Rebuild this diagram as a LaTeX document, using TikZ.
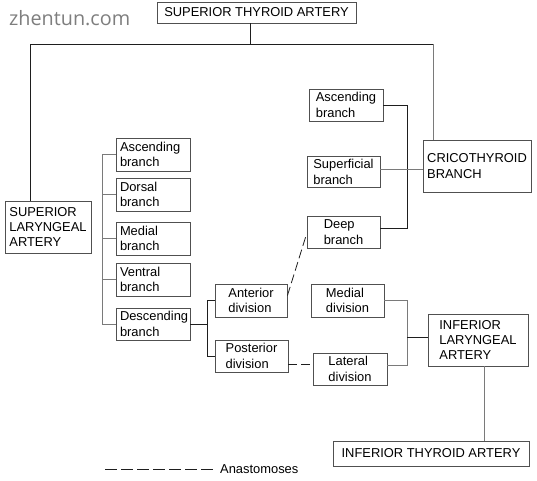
\documentclass[tikz,border=0pt]{standalone}
\usepackage{fontspec}
\setmainfont{Liberation Sans}
\newfontfamily\wmfont{Open Sans}
\definecolor{boxc}{HTML}{505050}
\definecolor{lnk}{HTML}{1E1E1E}
\definecolor{lng}{HTML}{7A7A7A}
\definecolor{wmc}{HTML}{7E7E7E}
\begin{document}
\begin{tikzpicture}[x=1pt,y=-1pt,
  box/.style={draw=boxc, line width=0.9pt, inner sep=0pt, align=left,
    font=\fontsize{12.9}{15.3}\selectfont, text=black},
  lbox/.style={box, text width=66pt, inner xsep=4pt, minimum width=74pt, minimum height=33pt},
  dk/.style={draw=lnk, line width=0.9pt},
  gr/.style={draw=lng, line width=0.9pt},
  anast/.style={draw=lnk, line width=0.8pt, dash pattern=on 9pt off 4pt}]
\useasboundingbox (0,0) rectangle (537,480);
\node[font=\wmfont\fontsize{19.8}{21}\selectfont, text=wmc, anchor=west, inner sep=0pt] (wm) at (9,18) {zhentun.com};

\node[box, minimum width=199pt, minimum height=21pt] (sta) at (256.5,12.5) {SUPERIOR THYROID ARTERY};
\node[box, minimum width=86pt, minimum height=52pt] (sla) at (48,227) {SUPERIOR\\LARYNGEAL\\ARTERY};
\node[lbox] (asc1) at (153,154.5) {Ascending\\branch};
\node[lbox] (dor) at (153,194.5) {Dorsal\\branch};
\node[lbox] (med) at (153,238.5) {Medial\\branch};
\node[lbox] (ven) at (153,279.5) {Ventral\\branch};
\node[lbox, minimum height=32pt] (desc) at (153,324) {Descending\\branch};
\node[box, minimum width=72pt, minimum height=33pt] (ant) at (251,300.5) {Anterior\\division};
\node[box, minimum width=73pt, minimum height=32pt] (post) at (251.5,356) {Posterior\\division};
\node[box, minimum width=74pt, minimum height=32pt] (asc2) at (346,105) {Ascending\\branch};
\node[box, minimum width=73pt, minimum height=31pt] (sup) at (343.5,172) {Superficial\\branch};
\node[box, minimum width=73pt, minimum height=32pt] (deep) at (343.5,232) {Deep\\branch};
\node[box, minimum width=108pt, minimum height=52pt] (cri) at (477,166) {CRICOTHYROID\\BRANCH};
\node[box, minimum width=73pt, minimum height=33pt] (mdiv) at (347.5,300.5) {Medial\\division};
\node[box, minimum width=74pt, minimum height=32pt] (lat) at (350,369) {Lateral\\division};
\node[box, minimum width=100pt, minimum height=52pt] (ila) at (478,340) {INFERIOR\\LARYNGEAL\\ARTERY};
\node[box, minimum width=196pt, minimum height=25pt] (ita) at (431,453.5) {INFERIOR THYROID ARTERY};

% top tree
\coordinate (j1) at (250,44);
\coordinate (jl) at (30,44);
\coordinate (jr) at (433,44);
\draw[dk] (sta.south -| j1) -- (j1);
\draw[dk] (sla.north -| jl) -- (jl) -- (jr);
\draw[gr] (jr) -- (jr |- cri.north);

% left spine
\coordinate (sp) at (102,0);
\draw[gr] (asc1.west -| sp) -- (desc.west -| sp);
\foreach \n in {asc1,dor,med,ven,desc} \draw[gr] (\n.west -| sp) -- (\n.west);

% descending to divisions
\coordinate (dv) at (207,0);
\draw[dk] (desc.east) -- (desc.east -| dv);
\draw[dk] (ant.west -| dv) -- (post.west -| dv);
\draw[dk] (ant.west -| dv) -- (ant.west);
\draw[dk] (post.west -| dv) -- (post.west);

% cricothyroid branches
\coordinate (rc) at (407,0);
\draw[dk] (asc2.east) -- (asc2.east -| rc) -- ([yshift=4pt]deep.east -| rc) -- ([yshift=4pt]deep.east);
\draw[gr] ([yshift=3pt]sup.east) -- ([yshift=3pt]sup.east -| cri.west);

% inferior laryngeal
\draw[gr] (mdiv.east) -- (mdiv.east -| rc) -- ([yshift=4pt]lat.east -| rc) -- ([yshift=4pt]lat.east);
\draw[dk] ([yshift=3pt]ila.west -| rc) -- ([yshift=3pt]ila.west);
\coordinate (iv) at (484,0);
\draw[gr] (ila.south -| iv) -- (ita.north -| iv);

% anastomoses
\draw[anast] ([yshift=5pt]ant.east) -- ([yshift=-2pt]deep.west);
\draw[anast] ([yshift=-8pt]post.east) -- ([yshift=-8pt]post.east -| lat.west);

% legend
\node[anchor=west, inner sep=0pt, font=\fontsize{12.9}{15.3}\selectfont] (leg) at (220,469.5) {Anastomoses};
\coordinate (lg) at (105,469.5);
\draw[anast, dash pattern=on 12pt off 4pt] (lg) -- ([xshift=-4pt]leg.west);
\end{tikzpicture}
\end{document}
